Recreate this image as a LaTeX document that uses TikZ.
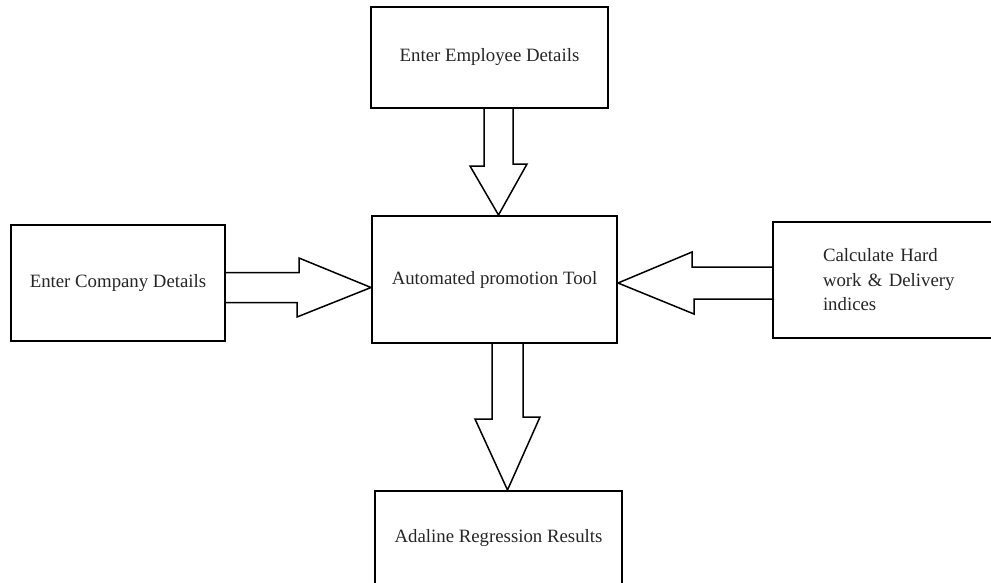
\documentclass[tikz,border=0pt]{standalone}
\usepackage{fontspec}
\setmainfont{Liberation Serif}
\usetikzlibrary{calc, positioning}

\begin{document}
\begin{tikzpicture}[x=1pt, y=-1pt, line width=1.5pt,
	box/.style={draw, rectangle, line width=2pt, text=black!85, font=\fontsize{18.8}{24.5}\selectfont},
	blockarrow/.style={draw, line width=1.5pt, line join=miter}]
	\clip (0,0) rectangle (991,582);
	\fill[white] (0,0) rectangle (991,582);
	
	\node[box, minimum width=245pt, minimum height=127pt] (tool) at (494.5,279.5) {Automated promotion Tool};
	\node[box, minimum width=237pt, minimum height=101pt] (emp) at (489.5,57.5) {Enter Employee Details};
	\node[box, minimum width=214pt, minimum height=116pt] (comp) at (118,283) {Enter Company Details};
	\node[box, minimum height=116pt, text width=140pt, inner xsep=50pt, align=left] (calc) at (893,280) {Calculate Hard\\work \& Delivery\\indices};
	\node[box, minimum width=247pt, minimum height=94pt] (res) at (498.5,538) {Adaline Regression Results};
	
	% block arrows into and out of the tool
	\draw[blockarrow] ($(emp.south)+(-5.5,0)$) -- ++(0,57) -- ++(-14,0) -- ($(tool.north)+(4,0)$) -- ++(28.5,-51) -- ++(-14,0) -- ++(0,-57);
	\draw[blockarrow] ($(comp.east)+(0,-10.5)$) -- ++(73,0) -- ++(0,-14.5) -- ($(tool.west)+(0,8)$) -- ++(-74,29.5) -- ++(0,-14.5) -- ++(-73,0);
	\draw[blockarrow] ($(calc.west)+(0,-13)$) -- ++(-80,0) -- ++(0,-15) -- ($(tool.east)+(0,3.5)$) -- ++(76,31) -- ++(0,-15) -- ++(80,0);
	\draw[blockarrow] ($(tool.south)+(-2.5,0)$) -- ++(0,75) -- ++(-17,0) -- ($(res.north)+(9,0)$) -- ++(32.5,-73) -- ++(-17,0) -- ++(0,-75);
	
\end{tikzpicture}
\end{document}
